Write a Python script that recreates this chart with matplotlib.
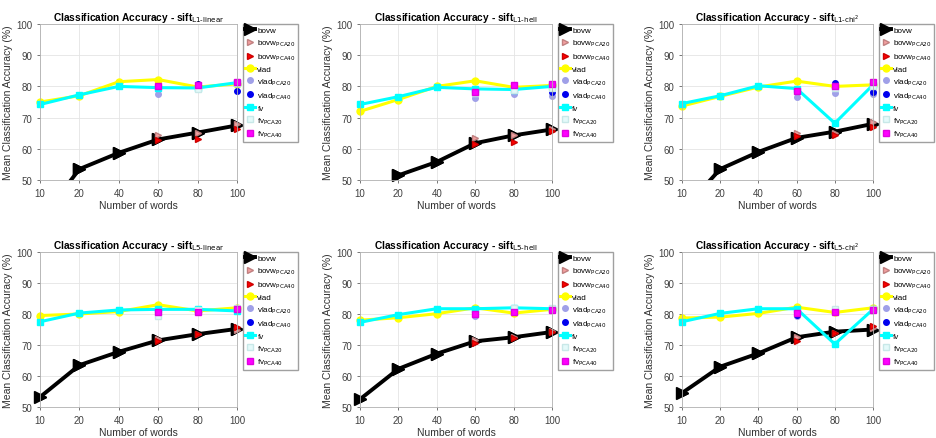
import numpy as np
import matplotlib
matplotlib.use("Agg")
import matplotlib.pyplot as plt

plt.rcParams['font.family'] = ['Liberation Sans', 'DejaVu Sans']

words = [10, 20, 40, 60, 80, 100]
pca_words = [60, 80, 100]
nan = np.nan

titles = ['L1-linear', 'L1-hell', 'L1-chi^2', 'L5-linear', 'L5-hell', 'L5-chi^2']

# main series, one row per panel
bovw = [
    [37, 53.5, 58.7, 63.0, 65.2, 67.5],
    [28, 51.5, 55.8, 61.8, 64.3, 66.2],
    [40, 53.5, 59.0, 63.5, 65.5, 68.0],
    [53.2, 63.5, 67.8, 71.5, 73.5, 75.2],
    [52.5, 62.3, 67.2, 71.2, 72.5, 74.2],
    [54.5, 63.0, 67.3, 72.5, 74.3, 75.0],
]
vlad = [
    [75.0, 77.0, 81.5, 82.2, 79.8, 80.8],
    [72.0, 75.8, 80.0, 81.8, 79.7, 80.3],
    [73.7, 76.8, 79.8, 81.7, 80.0, 80.5],
    [79.5, 80.0, 80.8, 83.0, 81.0, 82.0],
    [78.0, 78.8, 80.1, 82.0, 80.3, 81.5],
    [78.7, 79.0, 80.2, 82.2, 80.5, 82.0],
]
fv = [
    [74.2, 77.3, 80.0, 79.6, 79.5, 81.2],
    [74.2, 76.7, 79.7, 79.2, 79.0, 80.0],
    [74.5, 77.0, 80.2, 79.3, 68.2, 80.5],
    [77.5, 80.3, 81.3, 81.5, 81.5, 81.0],
    [77.3, 79.8, 81.7, 81.7, 82.0, 81.7],
    [77.5, 80.2, 81.7, 81.7, 70.3, 81.5],
]

# PCA variants at 60, 80, 100 words
bovw_pca20 = [
    [64.5, 65.2, 68.0], [63.5, 64.5, 66.5], [65.0, 65.0, 68.5],
    [72.0, 73.5, 74.8], [71.5, 72.5, 74.5], [72.5, 74.0, 75.5],
]
bovw_pca40 = [
    [62.8, 63.2, 66.5], [61.5, 62.3, 65.7], [64.0, 64.3, 67.0],
    [71.2, 73.5, 75.8], [70.8, 72.3, 74.2], [71.3, 74.0, 76.2],
]
vlad_pca20 = [
    [77.5, 80.5, 81.0], [76.3, 77.5, 77.0], [76.7, 78.0, 77.5],
    [79.5, nan, 82.0], [79.3, nan, nan], [79.3, nan, nan],
]
vlad_pca40 = [
    [nan, 80.7, 78.5], [nan, 80.3, 78.3], [nan, 81.0, 78.3],
    [nan, nan, nan], [nan, nan, nan], [79.8, nan, nan],
]
fv_pca20 = [
    [nan, 79.2, 81.0], [77.8, 78.8, 79.5], [nan, 79.5, 80.0],
    [79.5, 81.2, 81.8], [nan, 81.8, 81.8], [nan, 81.5, 81.5],
]
fv_pca40 = [
    [80.2, 80.5, 81.5], [78.2, 80.5, 80.8], [78.5, 80.0, 81.3],
    [80.8, 80.8, 81.5], [80.0, 80.5, 81.3], [80.2, 80.8, 81.3],
]

W, H = 936, 439
fig = plt.figure(figsize=(W / 100, H / 100), dpi=100)

lefts = [40, 360, 682]
widths = [197, 192, 191]
rows = [(25, 181), (253, 408)]

x = np.arange(len(words))
xp = np.array([words.index(w) for w in pca_words])

for i in range(6):
    r, c = divmod(i, 3)
    top, bot = rows[r]
    ax = fig.add_axes([lefts[c] / W, 1 - bot / H, widths[c] / W, (bot - top) / H])

    # the line is clipped at 50, markers inside the range hang over the frame
    b = np.array(bovw[i], dtype=float)
    ax.plot(x, b, color='black', lw=2.8, marker='>', ms=8, label='bovw')
    ax.plot(x, np.where(b >= 50, b, nan), ls='none', color='black', marker='>',
            ms=8, clip_on=False)
    ax.plot(xp, bovw_pca20[i], ls='none', marker='>', ms=5, mfc='#f4a0a0',
            mec='#c08080', label=r'bovw$_{\mathrm{PCA20}}$', clip_on=False)
    ax.plot(xp, bovw_pca40[i], ls='none', marker='>', ms=5, mfc='red',
            mec='#cc0000', label=r'bovw$_{\mathrm{PCA40}}$', clip_on=False)
    ax.plot(x, vlad[i], color='#ffff00', lw=2.2, marker='o', ms=5, label='vlad',
            clip_on=False)
    ax.plot(xp, vlad_pca20[i], ls='none', marker='o', ms=4, mfc='#a0a0e8',
            mec='#a0a0e8', label=r'vlad$_{\mathrm{PCA20}}$', clip_on=False)
    ax.plot(xp, vlad_pca40[i], ls='none', marker='o', ms=4, mfc='#0000ee',
            mec='#0000ee', label=r'vlad$_{\mathrm{PCA40}}$', clip_on=False)
    ax.plot(x, fv[i], color='#00ffff', lw=2.2, marker='s', ms=4.5, label='fv',
            clip_on=False)
    ax.plot(xp, fv_pca20[i], ls='none', marker='s', ms=4, mfc='#e4fafa',
            mec='#c8e8e8', label=r'fv$_{\mathrm{PCA20}}$', clip_on=False)
    ax.plot(xp, fv_pca40[i], ls='none', marker='s', ms=4, mfc='#ff00ff',
            mec='#e000e0', label=r'fv$_{\mathrm{PCA40}}$', clip_on=False)

    ax.set_xlim(0, len(words) - 1)
    ax.set_ylim(50, 100)
    ax.set_xticks(x)
    ax.set_xticklabels([str(w) for w in words])
    ax.set_yticks([50, 60, 70, 80, 90, 100])
    ax.tick_params(labelsize=7, colors='#404040', length=2, width=0.5)
    ax.grid(True, color='#e4e4e4', lw=0.6)
    ax.set_axisbelow(True)
    for s in ax.spines.values():
        s.set_color('#b0b0b0')
        s.set_linewidth(0.6)

    ax.set_xlabel('Number of words', fontsize=7.5, color='#303030', labelpad=2)
    ax.set_ylabel('Mean Classification Accuracy (%)', fontsize=7.5, color='#303030', labelpad=2)
    t = titles[i].replace('-', r'\text{-}')
    ax.set_title(r'Classification Accuracy - sift$_{\mathrm{' + t + '}}$',
                 fontsize=7.3, fontweight='bold', pad=3)

    ax.legend(loc='upper left', bbox_to_anchor=(1.03, 1.0), fontsize=5.8,
              fancybox=False, edgecolor='#a0a0a0', framealpha=1,
              handlelength=1.2, handletextpad=0.3, labelspacing=0.42,
              borderpad=0.3, borderaxespad=0)

fig.savefig('out.png', dpi=100)
